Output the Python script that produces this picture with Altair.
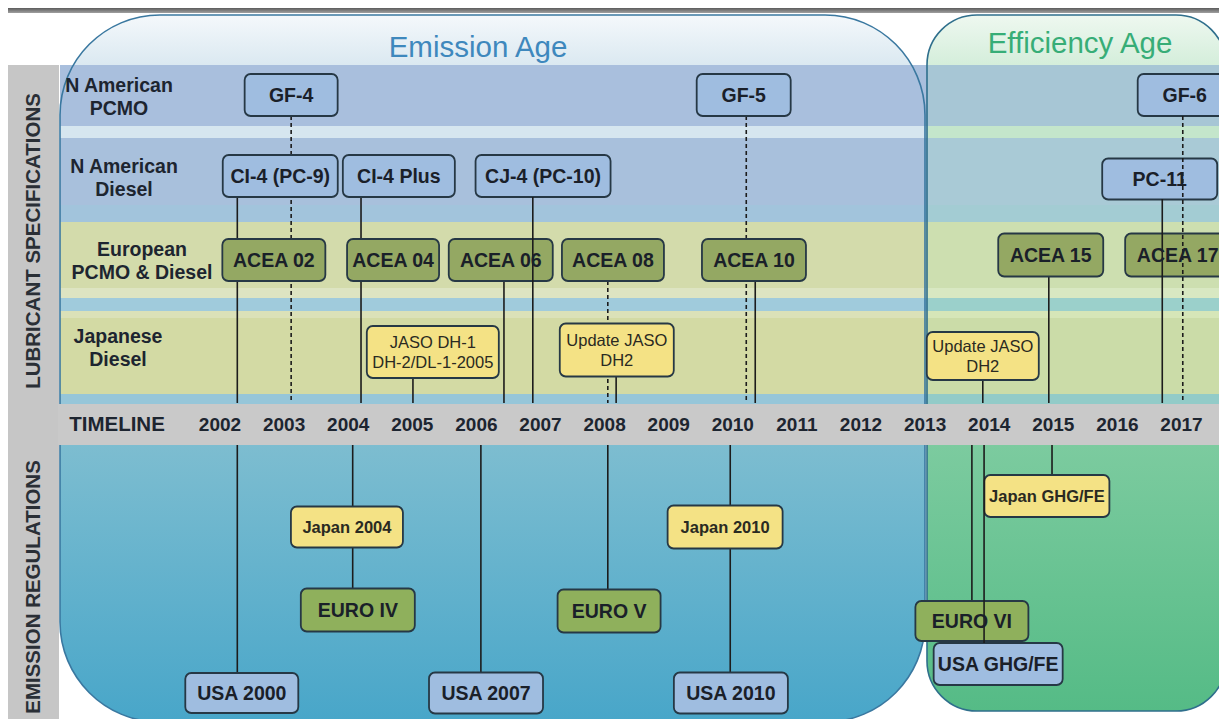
import altair as alt
import pandas as pd

# ------------------------------------------------------------------ data
timeline_years = list(range(2002, 2018))

row_labels = ["N American\nPCMO", "N American\nDiesel", "European\nPCMO & Diesel", "Japanese\nDiesel"]

spec_labels = ["GF-4", "GF-5", "GF-6",
               "CI-4 (PC-9)", "CI-4 Plus", "CJ-4 (PC-10)", "PC-11",
               "ACEA 02", "ACEA 04", "ACEA 06", "ACEA 08", "ACEA 10", "ACEA 15", "ACEA 17",
               "JASO DH-1\nDH-2/DL-1-2005", "Update JASO\nDH2", "Update JASO\nDH2"]
spec_years = [2003.11, 2010.17, 2017.05,
              2002.94, 2004.79, 2007.04, 2016.66,
              2002.84, 2004.70, 2006.38, 2008.13, 2010.33, 2014.96, 2016.94,
              2005.32, 2008.19, 2013.90]
spec_kind = ["na"] * 7 + ["eu"] * 7 + ["jp"] * 3

reg_labels = ["USA 2000", "Japan 2004", "EURO IV", "USA 2007", "EURO V", "Japan 2010",
              "USA 2010", "EURO VI", "USA GHG/FE", "Japan GHG/FE"]
reg_years = [2002.34, 2003.98, 2004.15, 2006.15, 2008.07, 2009.88,
             2009.97, 2013.73, 2014.14, 2014.90]
reg_kind = ["na", "jp", "eu", "na", "eu", "jp", "na", "eu", "na", "jp"]

# connector lines: year of the event
link_years = [2002.27, 2003.11, 2004.20, 2005.01, 2006.43, 2006.88, 2008.05, 2008.18,
              2010.21, 2010.35, 2013.90, 2014.93, 2016.70, 2017.02,
              2002.27, 2004.07, 2006.07, 2008.05, 2009.96, 2013.73, 2013.92, 2014.98]
link_dashed = [False, True, False, False, False, False, True, False,
               True, False, False, False, False, True,
               False, False, False, False, False, False, False, False]

# ------------------------------------------------------------------ layout
PX0, PXYEAR = 220.0, 64.1          # picture x of 2002 and px per year
def X(px):
    return 2002 + (px - PX0) / PXYEAR

W, H = 1211, 711
XS = alt.Scale(domain=[X(8), X(8 + W)], nice=False, zero=False)
YS = alt.Scale(domain=[8, 8 + H], reverse=True, nice=False, zero=False)

spec_cy = [95, 95, 95, 176, 176, 176, 179, 260, 260, 260, 260, 260, 255, 255, 352, 350, 356]
spec_w = [93, 94, 94, 115, 112, 135, 115, 103, 92, 104, 102, 104, 105, 105, 132, 114, 112]
spec_h = [42, 42, 42, 42, 42, 42, 41, 42, 42, 42, 42, 42, 43, 43, 52, 53, 48]

reg_cy = [693, 527, 610, 693, 611, 527, 693, 621, 664, 496]
reg_w = [113, 112, 114, 114, 103, 115, 114, 113, 129, 125]
reg_h = [40, 41, 43, 41, 43, 43, 41, 40, 42, 42]

link_y1 = [197, 116, 197, 378, 281, 197, 281, 376, 116, 281, 380, 276, 199, 116,
           445, 445, 445, 445, 445, 445, 445, 445]
link_y2 = [403, 403, 403, 403, 403, 403, 403, 403, 403, 403, 403, 403, 403, 403,
           673, 590, 672, 589, 672, 601, 643, 475]
link_over = [False, False, False, False, False, True, False, False,
             False, False, False, False, True, True,
             False, False, False, False, False, False, True, False]

row_pos = [(119, 97), (124, 178), (142, 261), (118, 348)]

fill_spec = {"na": "#9fbde0", "eu": "#94a863", "jp": "#f4e285"}
fill_reg = {"na": "#9fbde0", "eu": "#8fb05c", "jp": "#f4e285"}
STROKE = "#263845"


def grad(stops):
    return alt.Gradient(gradient="linear", x1=0, x2=0, y1=0, y2=1,
                        stops=[alt.GradientStop(color=c, offset=o) for o, c in stops])


def rect_chart(df, **kw):
    enc = dict(x=alt.X("x1:Q", scale=XS, axis=None), x2="x2:Q",
               y=alt.Y("y1:Q", scale=YS, axis=None), y2="y2:Q")
    if "fill" in df.columns:
        enc["fill"] = alt.Fill("fill:N", scale=None)
    return alt.Chart(df).mark_rect(clip=True, **kw).encode(**enc)


def text_chart(df, **kw):
    return alt.Chart(df).mark_text(clip=True, **kw).encode(
        x=alt.X("x:Q", scale=XS, axis=None),
        y=alt.Y("y:Q", scale=YS, axis=None),
        text="label:N")


layers = []

# top dark strip
layers.append(rect_chart(pd.DataFrame({"x1": [X(8)], "x2": [X(1230)], "y1": [8], "y2": [13]}),
                         color=grad([(0, "#5c5c5c"), (1, "#a0a0a0")])))
# left grey column
layers.append(rect_chart(pd.DataFrame({"x1": [X(8)], "x2": [X(59)], "y1": [65], "y2": [730]}),
                         color="#c6c6c6"))
# pale upper part of the two ages
layers.append(rect_chart(pd.DataFrame({"x1": [X(60)], "x2": [X(925)], "y1": [15], "y2": [722]}),
                         cornerRadius=100, color=grad([(0, "#f4f8fb"), (0.07, "#dbe9f1"), (1, "#dbe9f1")])))
layers.append(rect_chart(pd.DataFrame({"x1": [X(927)], "x2": [X(1226)], "y1": [15], "y2": [711]}),
                         cornerRadius=50, color=grad([(0, "#eef8f0"), (0.07, "#d5eedb"), (1, "#d5eedb")])))

# lubricant-specification bands (emission part / efficiency part)
band_y = [(65, 126), (126, 138), (138, 205), (205, 222), (222, 288), (288, 298),
          (298, 311), (311, 318), (318, 394), (394, 405)]
band_em = ["#a9bfdd", "#d6e6ef", "#a8c0dc", "#a2c4dc", "#d3dbab", "#dde4c2",
           "#a0cbdc", "#dbe1b8", "#d3daa4", "#96c6d9"]
band_ef = ["#a7c6d5", "#c4e6cb", "#a9cad6", "#a3ccd3", "#cddfb0", "#d8e8c2",
           "#9bd0cb", "#d6e6b8", "#cbdca8", "#92cbc8"]
bands = pd.DataFrame({
    "x1": [X(60)] * len(band_y) + [X(927)] * len(band_y),
    "x2": [X(927)] * len(band_y) + [X(1230)] * len(band_y),
    "y1": [a for a, b in band_y] * 2,
    "y2": [b for a, b in band_y] * 2,
    "fill": band_em + band_ef,
})
layers.append(rect_chart(bands))

# lower (emission regulations) fills
layers.append(rect_chart(pd.DataFrame({"x1": [X(60)], "x2": [X(925)], "y1": [445], "y2": [722]}),
                         cornerRadiusBottomLeft=100, cornerRadiusBottomRight=100,
                         color=grad([(0, "#7dbdd0"), (1, "#48a6c9")])))
layers.append(rect_chart(pd.DataFrame({"x1": [X(927)], "x2": [X(1226)], "y1": [445], "y2": [711]}),
                         cornerRadiusBottomLeft=50, cornerRadiusBottomRight=50,
                         color=grad([(0, "#7ccb9f"), (1, "#55bb86")])))

# outlines of the two ages
layers.append(rect_chart(pd.DataFrame({"x1": [X(60)], "x2": [X(925)], "y1": [15], "y2": [722]}),
                         cornerRadius=100, fillOpacity=0, fill="white", stroke="#3a78a0", strokeWidth=1.6))
layers.append(rect_chart(pd.DataFrame({"x1": [X(927)], "x2": [X(1226)], "y1": [15], "y2": [711]}),
                         cornerRadius=50, fillOpacity=0, fill="white", stroke="#2f6f8c", strokeWidth=1.6))

# timeline bar
layers.append(rect_chart(pd.DataFrame({"x1": [X(58)], "x2": [X(1230)], "y1": [404], "y2": [445]}),
                         color="#c9c9c9"))

# connector lines
links = pd.DataFrame({"x": link_years, "y1": link_y1, "y2": link_y2,
                      "dashed": link_dashed, "over": link_over})


def rule_chart(df, dashed):
    kw = dict(color="#1c1c1c", strokeWidth=1.6)
    if dashed:
        kw["strokeDash"] = [4, 3]
    return alt.Chart(df).mark_rule(clip=True, **kw).encode(
        x=alt.X("x:Q", scale=XS, axis=None),
        y=alt.Y("y1:Q", scale=YS, axis=None), y2="y2:Q")


under = links[~links["over"]]
over = links[links["over"]]
layers.append(rule_chart(under[~under["dashed"]], False))
layers.append(rule_chart(under[under["dashed"]], True))

# boxes
spec = pd.DataFrame({"label": spec_labels, "year": spec_years, "kind": spec_kind,
                     "cy": spec_cy, "w": spec_w, "h": spec_h})
spec["fill"] = spec["kind"].map(fill_spec)
reg = pd.DataFrame({"label": reg_labels, "year": reg_years, "kind": reg_kind,
                    "cy": reg_cy, "w": reg_w, "h": reg_h})
reg["fill"] = reg["kind"].map(fill_reg)
boxes = pd.concat([spec.assign(part="spec"), reg.assign(part="reg")], ignore_index=True)
boxes["x1"] = boxes["year"] - boxes["w"] / 2 / PXYEAR
boxes["x2"] = boxes["year"] + boxes["w"] / 2 / PXYEAR
boxes["y1"] = boxes["cy"] - boxes["h"] / 2
boxes["y2"] = boxes["cy"] + boxes["h"] / 2
layers.append(rect_chart(boxes[["x1", "x2", "y1", "y2", "fill"]], cornerRadius=6,
                         stroke=STROKE, strokeWidth=1.8))

layers.append(rule_chart(over[~over["dashed"]], False))
layers.append(rule_chart(over[over["dashed"]], True))

# box texts
boxes["x"] = boxes["year"]
boxes["y"] = boxes["cy"]
big = boxes[boxes["kind"] != "jp"]
jaso = boxes[(boxes["kind"] == "jp") & (boxes["part"] == "spec")]
japan = boxes[(boxes["kind"] == "jp") & (boxes["part"] == "reg")]
layers.append(text_chart(big[["x", "y", "label"]], font="Liberation Sans", fontWeight="bold",
                         fontSize=19.5, color="#1a2029", baseline="middle", dy=1))
layers.append(text_chart(jaso[["x", "y", "label"]], font="Liberation Sans", fontSize=16.5,
                         color="#2a2a22", baseline="middle", lineBreak="\n", lineHeight=20, dy=-9))
layers.append(text_chart(japan[["x", "y", "label"]], font="Liberation Sans", fontWeight="bold",
                         fontSize=16.5, color="#2a2a22", baseline="middle", dy=1))

# row labels
rows = pd.DataFrame({"label": row_labels, "x": [X(p[0]) for p in row_pos],
                     "y": [p[1] for p in row_pos]})
layers.append(text_chart(rows, font="Liberation Sans", fontWeight="bold", fontSize=19.5,
                         color="#1d2530", baseline="middle", lineBreak="\n", lineHeight=23, dy=-11))

# timeline labels
years = pd.DataFrame({"label": [str(y) for y in timeline_years], "x": timeline_years,
                      "y": [425] * len(timeline_years)})
layers.append(text_chart(years, font="Liberation Sans", fontWeight="bold", fontSize=19,
                         color="#1d2530", baseline="middle"))
layers.append(text_chart(pd.DataFrame({"label": ["TIMELINE"], "x": [X(117)], "y": [425]}),
                         font="Liberation Sans", fontWeight="bold", fontSize=20.5,
                         color="#1d2530", baseline="middle"))

# section labels (rotated)
layers.append(text_chart(pd.DataFrame({"label": ["LUBRICANT SPECIFICATIONS", "EMISSION REGULATIONS"],
                                       "x": [X(34), X(34)], "y": [241, 587]}),
                         font="Liberation Sans", fontWeight="bold", fontSize=20.5, angle=270,
                         color="#2a2f36", baseline="middle"))

# age titles
layers.append(text_chart(pd.DataFrame({"label": ["Emission Age"], "x": [X(478)], "y": [57]}),
                         font="Liberation Sans", fontSize=29.5, color="#3e88bd", baseline="alphabetic"))
layers.append(text_chart(pd.DataFrame({"label": ["Efficiency Age"], "x": [X(1080)], "y": [53]}),
                         font="Liberation Sans", fontSize=29.5, color="#37ad77", baseline="alphabetic"))

chart = alt.layer(*layers).properties(
    width=W, height=H, padding=0, background="white",
    autosize=alt.AutoSizeParams(type="none"),
).configure_view(stroke=None)

chart.save("out.html", embed_options={"renderer": "svg", "actions": False})
